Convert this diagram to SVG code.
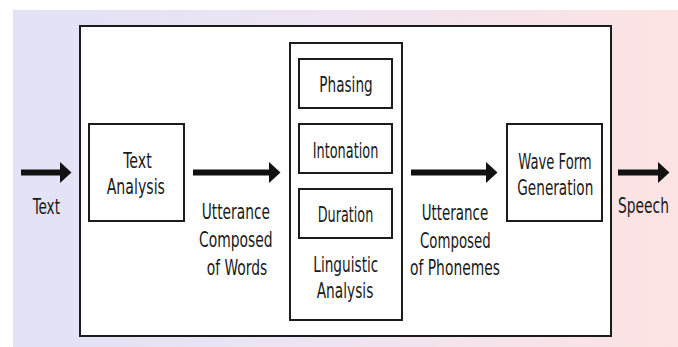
<svg xmlns="http://www.w3.org/2000/svg" width="678" height="347" viewBox="0 0 678 347">
  <defs>
    <linearGradient id="bg" x1="0" y1="0" x2="1" y2="0">
      <stop offset="0" stop-color="#e2e2f7"/>
      <stop offset="0.5" stop-color="#eee4f1"/>
      <stop offset="1" stop-color="#fde3e3"/>
    </linearGradient>
    <marker id="head" markerUnits="userSpaceOnUse" viewBox="0 0 12 22" markerWidth="12" markerHeight="22" refX="0.5" refY="11" orient="auto">
      <path d="M0,0 L12,11 L0,22 z" fill="#111"/>
    </marker>
    <style>
      .box { fill: #fff; stroke: #1c1c1c; stroke-width: 2; }
      .arrow { fill: none; stroke: #111; stroke-width: 6; marker-end: url(#head); }
      text { font-family: "DejaVu Sans Condensed", "DejaVu Sans", sans-serif; font-size: 22px; fill: #1a1a1a; }
    </style>
  </defs>
  <rect x="0" y="0" width="678" height="347" fill="#fff"/>
  <rect x="13" y="10" width="665" height="337" fill="url(#bg)"/>

  <g id="system">
    <rect class="box" x="80" y="26" width="531" height="310"/>
  </g>

  <g id="text-analysis">
    <rect class="box" x="89" y="124" width="95" height="97"/>
    <text x="123.3" y="168" textLength="28.4" lengthAdjust="spacingAndGlyphs">Text</text>
    <text x="106.7" y="194" textLength="58.3" lengthAdjust="spacingAndGlyphs">Analysis</text>
  </g>

  <g id="linguistic-analysis">
    <rect class="box" x="290" y="43" width="112" height="277"/>
    <text x="313.3" y="271.7" textLength="65" lengthAdjust="spacingAndGlyphs">Linguistic</text>
    <text x="316.7" y="298.3" textLength="56.6" lengthAdjust="spacingAndGlyphs">Analysis</text>
  </g>

  <g id="phasing">
    <rect class="box" x="299" y="59" width="93" height="49"/>
    <text x="319.3" y="91.7" textLength="53.4" lengthAdjust="spacingAndGlyphs">Phasing</text>
  </g>

  <g id="intonation">
    <rect class="box" x="299" y="124" width="93" height="49"/>
    <text x="312.7" y="158.3" textLength="65.6" lengthAdjust="spacingAndGlyphs">Intonation</text>
  </g>

  <g id="duration">
    <rect class="box" x="299" y="189" width="93" height="49"/>
    <text x="317.7" y="221.7" textLength="55.6" lengthAdjust="spacingAndGlyphs">Duration</text>
  </g>

  <g id="wave-form-generation">
    <rect class="box" x="507" y="124" width="95" height="97"/>
    <text x="518.3" y="169.3" textLength="73.4" lengthAdjust="spacingAndGlyphs">Wave Form</text>
    <text x="517.3" y="195" textLength="76" lengthAdjust="spacingAndGlyphs">Generation</text>
  </g>

  <g id="connectors">
    <path class="arrow" d="M21,172.5 H60"/>
    <path class="arrow" d="M193,172.5 H269"/>
    <path class="arrow" d="M411,172.5 H486"/>
    <path class="arrow" d="M618,172.5 H658"/>
    <text x="32.7" y="214" textLength="27.3" lengthAdjust="spacingAndGlyphs">Text</text>
    <text x="201.7" y="219" textLength="68.3" lengthAdjust="spacingAndGlyphs">Utterance</text>
    <text x="199" y="247" textLength="73.7" lengthAdjust="spacingAndGlyphs">Composed</text>
    <text x="206.7" y="275" textLength="60.6" lengthAdjust="spacingAndGlyphs">of Words</text>
    <text x="421.7" y="220" textLength="66.6" lengthAdjust="spacingAndGlyphs">Utterance</text>
    <text x="420" y="248" textLength="70.7" lengthAdjust="spacingAndGlyphs">Composed</text>
    <text x="410" y="275" textLength="90" lengthAdjust="spacingAndGlyphs">of Phonemes</text>
    <text transform="translate(618,213.3) scale(0.7,1)" x="0" y="0" textLength="72.8" lengthAdjust="spacingAndGlyphs">Speech</text>
  </g>
</svg>
